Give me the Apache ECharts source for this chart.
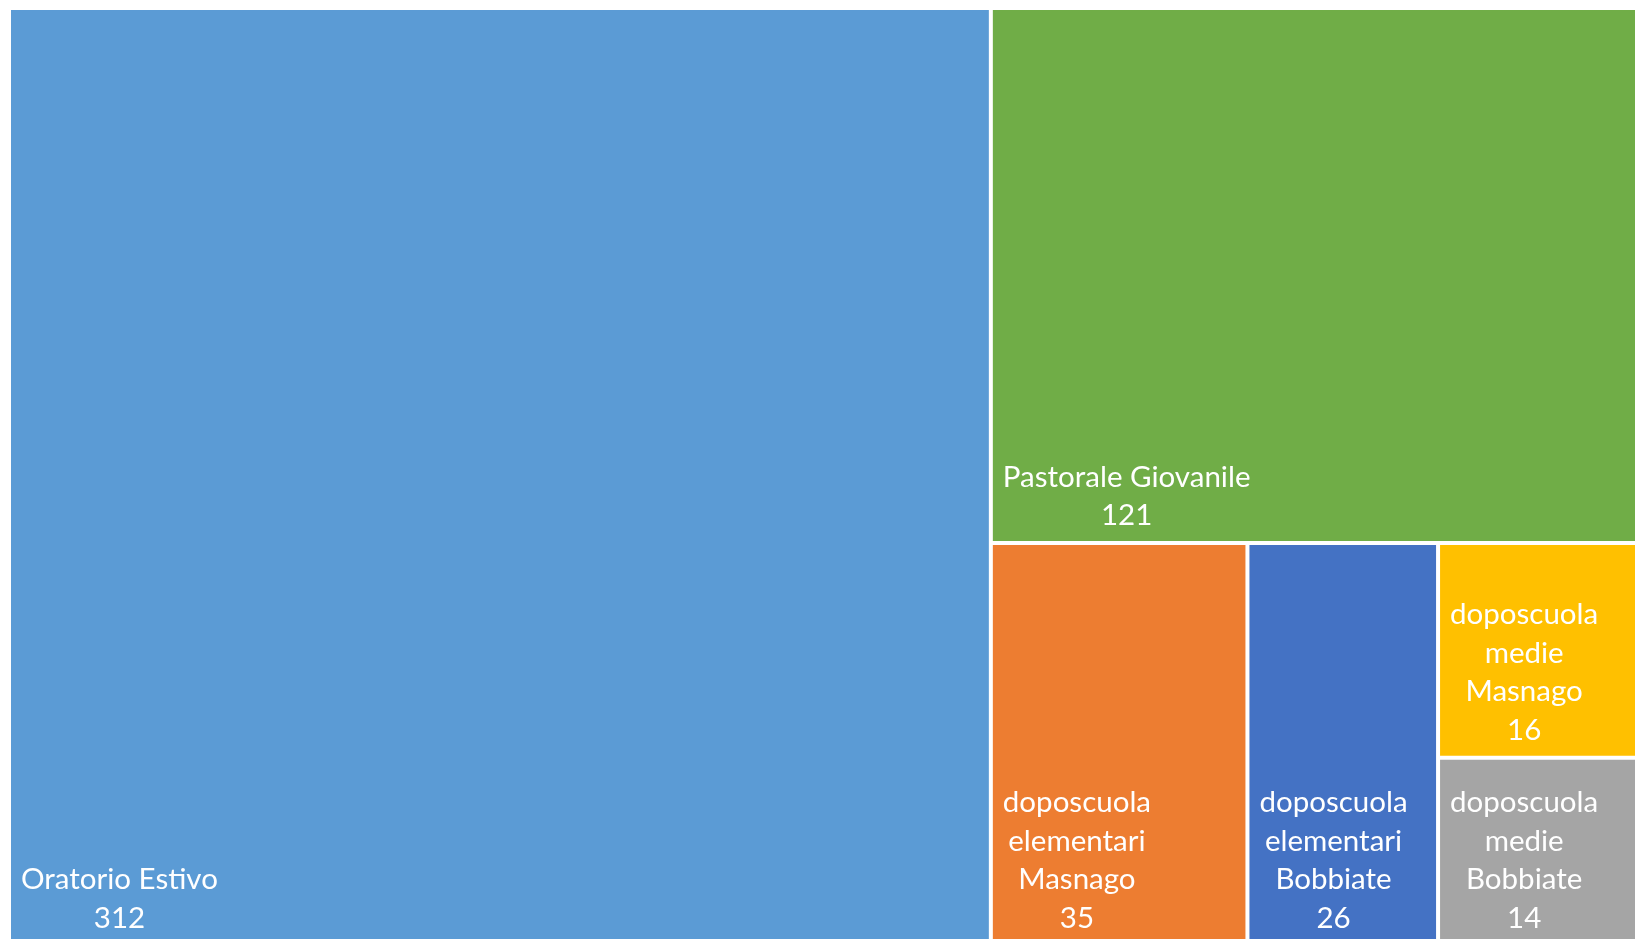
<!DOCTYPE html>
<html><head><meta charset="utf-8">
<script src="https://cdn.jsdelivr.net/npm/echarts@6/dist/echarts.min.js"></script>
<style>html,body{margin:0;padding:0;background:#fff;} #c{width:1635px;height:939px;}</style>
</head><body><div id="c"></div>
<script>
const categories = ['Oratorio Estivo', 'Pastorale Giovanile', 'doposcuola elementari Masnago', 'doposcuola elementari Bobbiate', 'doposcuola medie Masnago', 'doposcuola medie Bobbiate'];
const values = [312, 121, 35, 26, 16, 14];
const palette = ['#5B9BD5', '#70AD47', '#ED7D31', '#4472C4', '#FFC000', '#A5A5A5'];

const FONT_SIZE = 29.5;
const FONT_FAMILY = 'Lato';
const LINE_H = 38.5;
const PAD_LEFT = 10;
const PAD_BOTTOM = 11;

const data = categories.map((name, i) => ({
  name: name,
  value: values[i],
  itemStyle: { color: palette[i] }
}));

const measureCtx = document.createElement('canvas').getContext('2d');
measureCtx.font = FONT_SIZE + 'px ' + FONT_FAMILY;
function tokenLines(text) {
  return String(text).split('\n').map(l => l.replace(/^\{c\|/, '').replace(/\}$/, ''));
}

const chart = echarts.init(document.getElementById('c'), null, { renderer: 'canvas' });
chart.setOption({
  animation: false,
  series: [{
    type: 'treemap',
    left: 11, top: 10, width: 1645, height: 933.5,
    squareRatio: 0.8,
    roam: false,
    nodeClick: false,
    breadcrumb: { show: false },
    itemStyle: { gapWidth: 4, borderWidth: 0, borderColor: '#ffffff' },
    emphasis: { disabled: true },
    label: {
      show: true,
      position: 'insideTopLeft',
      distance: 0,
      overflow: 'none',
      formatter: function (p) {
        const lines = p.value < 100 ? p.name.split(' ') : [p.name];
        lines.push(String(p.value));
        return lines.map(l => '{c|' + l + '}').join('\n');
      },
      rich: {
        c: { align: 'center', color: '#ffffff', fontSize: FONT_SIZE, fontFamily: FONT_FAMILY, lineHeight: LINE_H }
      }
    },
    labelLayout: function (params) {
      const lines = tokenLines(params.text);
      let maxW = 0;
      lines.forEach(l => { maxW = Math.max(maxW, measureCtx.measureText(l).width); });
      const r = params.rect;
      return {
        dx: PAD_LEFT + maxW / 2 - r.width / 2,
        dy: r.height - PAD_BOTTOM - lines.length * LINE_H
      };
    },
    data: data
  }]
});
</script>
</body></html>
